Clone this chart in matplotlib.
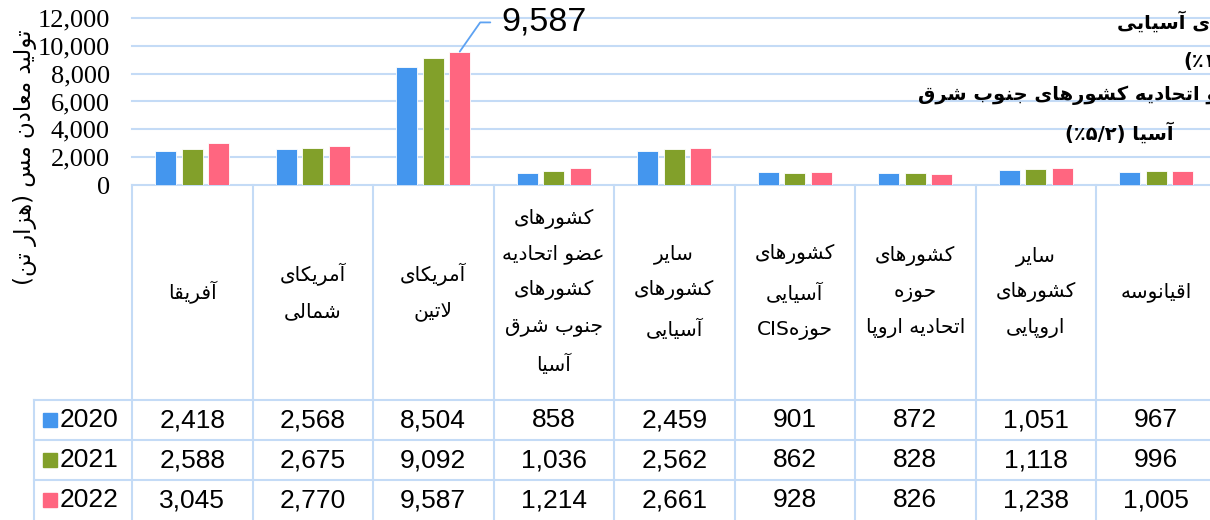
import re
import matplotlib
matplotlib.use("Agg")
import matplotlib.pyplot as plt
from matplotlib.transforms import blended_transform_factory

# data
categories = ["آفریقا", "آمریکای\nشمالی", "آمریکای\nلاتین",
              "کشورهای\nعضو اتحادیه\nکشورهای\nجنوب شرق\nآسیا",
              "سایر\nکشورهای\nآسیایی", "کشورهای\nآسیایی\nحوزهCIS",
              "کشورهای\nحوزه\nاتحادیه اروپا", "سایر\nکشورهای\nاروپایی",
              "اقیانوسه"]
years = ["2020", "2021", "2022"]
v2020 = [2418, 2568, 8504, 858, 2459, 901, 872, 1051, 967]
v2021 = [2588, 2675, 9092, 1036, 2562, 862, 828, 1118, 996]
v2022 = [3045, 2770, 9587, 1214, 2661, 928, 826, 1238, 1005]
series = [v2020, v2021, v2022]
colors = ["#4496EE", "#82A02A", "#FF6680"]
y_ticks = [0, 2000, 4000, 6000, 8000, 10000, 12000]
y_label = "تولید معادن مس (هزار تن)"
note_lines = ["سایر کشورهای آسیایی", "(۱۰/۱٪)",
              "عضو اتحادیه کشورهای جنوب شرق", "آسیا (۲/۵٪)"]

# minimal persian shaping (matplotlib has no complex text layout)
FORMS = {
    'آ': ('\uFE81', '\uFE82', None, None),
    'ا': ('\uFE8D', '\uFE8E', None, None),
    'ب': ('\uFE8F', '\uFE90', '\uFE91', '\uFE92'),
    'پ': ('\uFB56', '\uFB57', '\uFB58', '\uFB59'),
    'ت': ('\uFE95', '\uFE96', '\uFE97', '\uFE98'),
    'ج': ('\uFE9D', '\uFE9E', '\uFE9F', '\uFEA0'),
    'ح': ('\uFEA1', '\uFEA2', '\uFEA3', '\uFEA4'),
    'د': ('\uFEA9', '\uFEAA', None, None),
    'ر': ('\uFEAD', '\uFEAE', None, None),
    'ز': ('\uFEAF', '\uFEB0', None, None),
    'س': ('\uFEB1', '\uFEB2', '\uFEB3', '\uFEB4'),
    'ش': ('\uFEB5', '\uFEB6', '\uFEB7', '\uFEB8'),
    'ض': ('\uFEBD', '\uFEBE', '\uFEBF', '\uFEC0'),
    'ع': ('\uFEC9', '\uFECA', '\uFECB', '\uFECC'),
    'ف': ('\uFED1', '\uFED2', '\uFED3', '\uFED4'),
    'ق': ('\uFED5', '\uFED6', '\uFED7', '\uFED8'),
    'ک': ('\uFB8E', '\uFB8F', '\uFB90', '\uFB91'),
    'ل': ('\uFEDD', '\uFEDE', '\uFEDF', '\uFEE0'),
    'م': ('\uFEE1', '\uFEE2', '\uFEE3', '\uFEE4'),
    'ن': ('\uFEE5', '\uFEE6', '\uFEE7', '\uFEE8'),
    'ه': ('\uFEE9', '\uFEEA', '\uFEEB', '\uFEEC'),
    'و': ('\uFEED', '\uFEEE', None, None),
    'ی': ('\uFBFC', '\uFBFD', '\uFBFE', '\uFBFF'),
}
LAM_ALEF = {'ا': ('\uFEFB', '\uFEFC'), 'آ': ('\uFEF5', '\uFEF6')}
MIRROR = {'(': ')', ')': '('}


def shape(text):
    out = []
    i = 0
    n = len(text)
    while i < n:
        c = text[i]
        if c not in FORMS:
            out.append(c)
            i += 1
            continue
        prev = text[i - 1] if i > 0 else ''
        link_prev = prev in FORMS and FORMS[prev][2] is not None
        if c == 'ل' and i + 1 < n and text[i + 1] in LAM_ALEF:
            out.append(LAM_ALEF[text[i + 1]][1 if link_prev else 0])
            i += 2
            continue
        nxt = text[i + 1] if i + 1 < n else ''
        f = FORMS[c]
        link_next = f[2] is not None and nxt in FORMS
        if link_prev and link_next:
            out.append(f[3])
        elif link_prev:
            out.append(f[1])
        elif link_next:
            out.append(f[2])
        else:
            out.append(f[0])
        i += 1
    return ''.join(out)


def rtl(text):
    lines = []
    for line in text.split('\n'):
        runs = re.findall(r'[A-Za-z0-9]+|[^A-Za-z0-9]+', shape(line))
        vis = []
        for r in reversed(runs):
            if re.match(r'[A-Za-z0-9]', r):
                vis.append(r)
            else:
                vis.append(''.join(MIRROR.get(ch, ch) for ch in reversed(r)))
        lines.append(''.join(vis))
    return '\n'.join(lines)


W, H = 1210, 520
fig = plt.figure(figsize=(W / 100, H / 100), dpi=100)
# plot area in pixels: x 132..1216.5, y 18..185 (from top)
ax = fig.add_axes([132 / W, (H - 185) / H, 1084.5 / W, 167 / H])
ax.set_xlim(-0.5, len(categories) - 0.5)
ax.set_ylim(0, 12000)

grid_c = "#C4DBF6"
bw = 0.174
step = 0.22
for k, vals in enumerate(series):
    xs = [i + (k - 1) * step for i in range(len(categories))]
    ax.bar(xs, vals, width=bw, color=colors[k], edgecolor="white",
           linewidth=0.6, zorder=3)

ax.set_yticks(y_ticks)
ax.set_yticklabels([f"{t:,}" for t in y_ticks], family="Liberation Serif",
                   fontsize=19)
ax.tick_params(axis="y", length=0, pad=16)
ax.set_xticks([])
for s in ax.spines.values():
    s.set_visible(False)
ax.grid(axis="y", color=grid_c, linewidth=1.5, zorder=0)
for gl in ax.get_ygridlines():
    gl.set_clip_on(False)

# label on the max bar
ax.annotate(f"{v2022[2]:,}", xy=(2 + step, v2022[2]), xytext=(30, 21),
            textcoords="offset points", fontsize=24.5,
            family="Liberation Sans", va="center", ha="left",
            arrowprops=dict(arrowstyle="-", color="#5DA2F2", lw=1.3,
                            connectionstyle="angle,angleA=0,angleB=55,rad=0",
                            shrinkA=6, shrinkB=0))

# data table below the plot (x in data units, y in axes fraction)
tr = blended_transform_factory(ax.transData, ax.transAxes)


def ya(p):
    return (185 - p) / 167


left = -0.5 - (132 - 34) / 120.5
right = len(categories) - 0.5
bottom = ya(525)
for i in range(len(categories) + 1):
    ax.plot([i - 0.5, i - 0.5], [0, bottom], color=grid_c, lw=1.5,
            transform=tr, clip_on=False)
ax.plot([left, left], [ya(400), bottom], color=grid_c, lw=1.5,
        transform=tr, clip_on=False)
for p in (400, 440, 480):
    ax.plot([left, right], [ya(p), ya(p)], color=grid_c, lw=1.5,
            transform=tr, clip_on=False)

for i, c in enumerate(categories):
    ax.text(i, ya(292), rtl(c), transform=tr, ha="center", va="center",
            multialignment="center", family="DejaVu Sans", fontsize=14.5,
            linespacing=2.05)

row_y = [420, 460, 500]
for k, vals in enumerate(series):
    y = ya(row_y[k])
    ax.plot([-0.5 - 82 / 120.5], [y], marker="s", markersize=10,
            color=colors[k], transform=tr, clip_on=False)
    ax.text(-0.5 - 72 / 120.5, y, years[k], transform=tr, ha="left",
            va="center", family="Liberation Sans", fontsize=19)
    for i, v in enumerate(vals):
        ax.text(i, y, f"{v:,}", transform=tr, ha="center", va="center",
                family="Liberation Sans", fontsize=19)

fig.text(25 / W, (H - 157) / H, rtl(y_label), rotation=90, ha="center",
         va="center", family="DejaVu Sans", fontsize=16.5)

# text box at the top right, cut by the right edge as in the source
note_pos = [(1117, 22), (1183, 62), (918, 95), (1065, 133)]
for line, (px, py) in zip(note_lines, note_pos):
    fig.text(px / W, (H - py) / H, rtl(line), ha="left", va="center",
             family="DejaVu Sans", fontweight="bold", fontsize=14)

fig.savefig("out.png", dpi=100)
